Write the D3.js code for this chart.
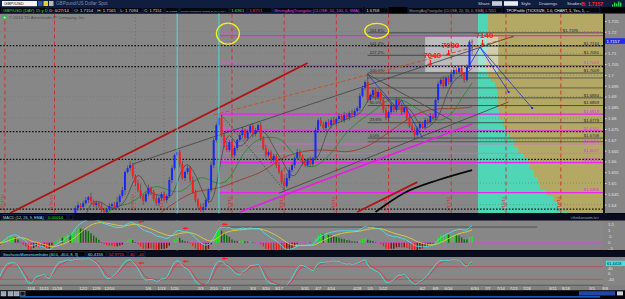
<!DOCTYPE html>
<html>
<head>
<meta charset="utf-8">
<script src="https://cdnjs.cloudflare.com/ajax/libs/d3/7.8.5/d3.min.js"></script>
<style>
  body { margin: 0; background: #000; overflow: hidden; }
  svg { display: block; font-family: "Liberation Sans", Arial, sans-serif; }
</style>
</head>
<body>
<svg id="chart" width="625" height="299"></svg>
<script>
// ---------------- data (GBP/USD daily) ----------------
var firstDay = "2013-09-23";
var firstOpen = 1.6040;
var closes = [
  1.6020,1.6000,1.6060,1.6030,1.6120,1.6190,1.6210,1.6200,1.6180,1.6120,
  1.6080,1.6110,1.5950,1.5960,1.5970,1.6010,1.5930,1.5980,1.6160,1.6170,
  1.6140,1.6230,1.6170,1.6190,1.6170,1.6110,1.6060,1.6050,1.6030,1.5930,
  1.5980,1.6080,1.6080,1.5990,1.6000,1.6010,1.5900,1.5960,1.6070,1.6120,
  1.6120,1.6140,1.6100,1.6180,1.6230,1.6190,1.6310,
  1.6384,1.6398,1.6389,1.6407,1.6421,1.6435,1.6416,1.6398,1.6407,1.6393,
  1.6375,1.6365,1.6379,1.6393,1.6402,1.6389,1.6412,1.6440,1.6467,1.6551,
  1.6569,1.6583,1.6532,1.6500,1.6467,1.6440,1.6416,1.6449,1.6477,1.6458,
  1.6426,1.6407,1.6430,1.6449,1.6421,1.6440,1.6514,1.6569,1.6629,1.6643,
  1.6588,1.6523,1.6551,1.6569,1.6514,1.6458,1.6421,1.6393,1.6375,1.6389,
  1.6421,1.6467,1.6583,1.6699,1.6768,1.6801,1.6722,1.6676,1.6653,1.6690,
  1.6629,1.6662,1.6699,1.6722,1.6745,1.6708,1.6736,1.6764,1.6727,1.6745,
  1.6768,1.6708,1.6662,1.6629,1.6643,1.6606,1.6625,1.6583,1.6551,1.6504,
  1.6486,1.6523,1.6560,1.6583,1.6615,1.6643,1.6625,1.6597,1.6583,1.6606,
  1.6588,1.6615,1.6745,1.6791,1.6773,1.6754,1.6782,1.6768,1.6791,1.6777,
  1.6796,1.6810,1.6791,1.6815,1.6805,1.6824,1.6815,1.6833,1.6847,1.6903,
  1.6940,1.6967,1.6884,1.6907,1.6930,1.6898,1.6921,1.6884,1.6838,1.6801,
  1.6828,1.6856,1.6838,1.6884,1.6856,1.6828,1.6847,1.6801,1.6764,1.6745,
  1.6722,1.6754,1.6773,1.6759,1.6791,1.6782,1.6810,1.6801,1.6884,1.6958,
  1.6977,1.6949,1.6986,1.6967,1.7004,1.7023,1.7014,1.7032,1.7000,1.6977,
  1.7037,1.7154,1.7151
];
// wicks in pips beyond the body
var upWick = [
  12,8,15,6,20,10,9,14,7,18,11,6,13,22,9,8,16,10,12,7,
  9,14,8,19,11,6,15,10,8,13,17,9,12,7,21,10,8,14,11,6,
  13,9,16,8,12,18,7,10,15,9,11,14,6,20,8,12,9,16,10,7,
  13,8,11,24,9,15,7,12,18,10,8,14,30,9,12,16,7,11,20,8,
  10,13,9,15,12,7,18,10,14,8,11,9,16,12,7,13,19,8,10,15,
  9,12,23,14,11,17,8,13,10,6,12,15,9,11,8,14,10,7,13,9,
  16,11,8,12,10,14,9,18,22,12,12,9,15,11,8,13,10,16,7,12,
  9,14,11,8,13,10,15,9,12,7,14,10,8,16,12,9,13,11,8,40,
  10,12,9,14,11,8,13,10,16,9,12,8,15,11,9,14,10,13,8,14,
  10,12,9,14,11,8,13,10,16,9,12,8,15,11,9,14,10,13,8,11
];
var dnWick = [
  10,14,7,12,9,16,8,11,13,6,15,9,12,8,18,10,7,14,11,9,
  12,7,15,10,8,13,20,9,11,14,8,12,10,16,7,13,9,11,15,8,
  14,10,7,12,18,9,13,8,11,16,10,7,14,12,9,15,8,13,10,11,
  9,16,12,8,14,10,22,7,13,11,15,9,12,17,8,10,14,9,12,13,
  11,8,15,10,13,9,12,16,8,14,10,13,7,11,15,9,12,8,14,10,
  13,11,16,9,12,8,10,14,11,13,9,15,10,12,8,17,11,9,13,10,
  12,8,14,10,13,9,11,15,8,12,10,14,9,12,16,8,11,13,10,9,
  14,11,8,13,10,15,9,12,11,8,13,10,16,9,12,11,14,8,10,13,
  11,9,14,12,8,13,10,15,9,11,12,10,13,8,14,9,11,18,10,12,
  9,11,13,10,12,8,14,9,11,10,12,9,13,10,8,11,12,9,10,57
];

var dateTicks = ["2013-11-04","2013-11-11","2013-11-18","2013-12-02","2013-12-09","2013-12-16",
  "2014-01-06","2014-01-13","2014-01-20","2014-02-03","2014-02-10","2014-02-17","2014-03-03",
  "2014-03-10","2014-03-17","2014-03-31","2014-04-07","2014-04-14","2014-04-28","2014-05-05",
  "2014-05-12","2014-06-02","2014-06-09","2014-06-16","2014-06-30","2014-07-07","2014-07-14",
  "2014-07-21","2014-07-28","2014-08-11","2014-08-18","2014-09-01","2014-09-08"];
var priceTicks = [1.64,1.645,1.65,1.655,1.66,1.665,1.67,1.675,1.68,1.685,1.69,1.695,1.70,1.705,1.71,1.715,1.72,1.725];
var macdTicks = [1.5, 1, 0.5, 0, -0.5];
var smiTicks = [40, 0, -40];

var redMarks = ["2013-10-21","2013-11-15","2014-02-19","2014-03-19","2014-04-16","2014-05-14","2014-06-17","2014-07-16","2014-08-14"];
var grayMarks = ["2013-12-30","2014-01-14"];
var cyanMarks = ["2014-01-21","2014-02-12"];
var arrowDates = ["2013-12-31","2014-01-23","2014-02-13"];

var fibAStart = "2014-02-12";
var fibAAnchors = [1.6456, 1.6819];
var fibARatios = [0, 0.382, 0.5, 0.618, 0.786, 1, 1.618, 2];
var fibBStart = "2014-05-02";
var fibBAnchors = [1.6708, 1.7009];
var fibBRatios = [0, 0.236, 0.5, 0.618, 1, 1.272, 1.414, 1.618];
var dottedLevels = [1.7136, 1.7039, 1.6738, 1.6609, 1.6379];
var grayLevels = [1.6986, 1.6940, 1.6691];

var redTrend = [["2013-10-23",1.6361],["2014-04-01",1.7055]];
var upperChannel = [["2013-12-27",1.6588],["2014-07-21",1.7180]];
var orangeTrend = [["2014-02-10",1.6815],["2014-07-21",1.7176]];
var magentaTrend = [["2014-02-24",1.6366],["2014-06-27",1.6773]];
var lowerChannel = [["2014-03-17",1.6453],["2014-07-17",1.6875]];
var fallingLine = [["2014-05-02",1.7003],["2014-06-17",1.6791]];
var dottedDrop = [["2014-02-13",1.6815],["2014-03-19",1.6467]];
var redSegment = [["2014-04-28",1.6366],["2014-05-29",1.6504]];
var blackCurve = [["2014-05-07",1.6366],["2014-05-22",1.6454],["2014-06-10",1.6514],["2014-06-27",1.6560]];
var blueSwing = [["2014-05-02",1.7003],["2014-05-19",1.6847],["2014-05-21",1.6884],["2014-06-02",1.6708]];
var blueProjA = [["2014-06-25",1.7023],["2014-07-02",1.7129],["2014-07-17",1.6921]];
var blueProjB = [["2014-07-02",1.7129],["2014-07-30",1.6847]];
var targetBox = [["2014-06-03",1.7176],["2014-07-11",1.7014]];
var targetTips = [["2014-06-05",1.7041],["2014-06-16",1.7088],["2014-07-03",1.7134]];
var targetLabels = ["7040","7080","7140"];
var macdGuide = [["2014-02-13",1.3],["2014-08-01",1.3]];

var tpoPrice = [1.7282,1.7254,1.7208,1.7162,1.7116,1.7055,1.7023,1.6990,1.6967,1.6944,1.6907,1.6870,1.6838,1.6791,
  1.6759,1.6731,1.6699,1.6666,1.6639,1.6615,1.6592,1.6560,1.6528,1.6500,1.6467,1.6440,1.6412,1.6389,1.6366];
var tpoCount = [10,10,10,9,8,7,10,13,17,19,20,20,21,25,28,31,36,40,46,50,52,56,60,62,68,75,80,84,89];

var lastBid = 1.7157;
var macdHeader = ["MACD (12, 26, 9, EMA)", "0.00014"];
var smiHeader = ["StochasticMomentumIndex (40.0, -40.0, 8, 3)", "60.4155", "52.9715", "40", "-40"];
var smiLast = "61.4418";

// ---------------- helpers ----------------
var parse = d3.timeParse("%Y-%m-%d");
var days = [];
var cur = parse(firstDay);
while (days.length < 262) {
  if (cur.getDay() !== 0 && cur.getDay() !== 6) days.push(cur);
  cur = d3.timeDay.offset(cur, 1);
}
function idx(s) { return d3.bisectLeft(days, parse(s)); }

function ema(arr, n) {
  var k = 2 / (n + 1), prev = null;
  return arr.map(function(v) {
    if (v == null) return null;
    prev = prev == null ? v : v * k + prev * (1 - k);
    return prev;
  });
}
function sma(arr, n) {
  return arr.map(function(v, i) {
    if (i < n - 1) return null;
    var s = arr.slice(i - n + 1, i + 1);
    if (s.some(function(e) { return e == null; })) return null;
    return d3.mean(s);
  });
}
function tma(arr, n) { return sma(sma(arr, Math.ceil(n / 2)), Math.floor(n / 2) + 1); }
// font size that lets a label fit its box
function fitSize(text, width, max) { return Math.min(max, width / (Math.max(1, text.length) * 0.5)); }

var candles = closes.map(function(c, i) {
  var o = i === 0 ? firstOpen : closes[i - 1];
  return { i: i, o: o, c: c, h: Math.max(o, c) + upWick[i] / 10000, l: Math.min(o, c) - dnWick[i] / 10000 };
});

// ---------------- layout ----------------
var svg = d3.select("#chart");
var plotR = 603;
var mainTop = 13.5, mainBot = 213;

var x = d3.scaleLinear().domain([idx("2013-11-04"), idx("2014-06-30")]).range([31, 474.7]);
var y = d3.scaleLinear().domain([1.6366, 1.7282]).range([212, 14]);
var ym = d3.scaleLinear().domain([-0.6, 1.8]).range([250, 221]);
var ys = d3.scaleLinear().domain([-100, 100]).range([288.8, 257.3]);

function px(p) { return [x(idx(p[0])), y(p[1])]; }

svg.append("rect").attr("width", 625).attr("height", 299).attr("fill", "#000");

// ---------------- header rows ----------------
svg.append("rect").attr("width", 625).attr("height", 7).attr("fill", "#0f1d3e");
svg.append("rect").attr("x", 2).attr("y", 1).attr("width", 35).attr("height", 5.2).attr("fill", "#f4f4f4");
svg.append("text").attr("x", 4).attr("y", 5.3).attr("font-size", 4.4).attr("fill", "#111").text("GBP/USD");
svg.append("rect").attr("x", 38).attr("y", 1).attr("width", 4.5).attr("height", 5).attr("fill", "#2a55b8");
svg.append("rect").attr("x", 43.5).attr("y", 1).attr("width", 4.5).attr("height", 5).attr("fill", "#e6d21e");
svg.append("rect").attr("x", 49).attr("y", 1).attr("width", 4.5).attr("height", 5).attr("fill", "#b8b8b8");
svg.append("text").attr("x", 56).attr("y", 5.3).attr("font-size", 4.6).attr("fill", "#7f8fb4").text("GBPound/US Dollar Spot");

var topButtons = [["Share", 478], ["Style", 521], ["Drawings", 539], ["Studies", 567]];
svg.selectAll("text.btn").data(topButtons).enter().append("text")
  .attr("x", function(d) { return d[1]; }).attr("y", 5.3)
  .attr("font-size", 4.4).attr("fill", "#d0d6e6").text(function(d) { return d[0]; });
svg.append("rect").attr("x", 492).attr("y", 1.2).attr("width", 10).attr("height", 4.6).attr("fill", "#c8ccd8");
svg.append("rect").attr("x", 504).attr("y", 1.2).attr("width", 14).attr("height", 4.6).attr("fill", "#e8ecf4");
svg.append("text").attr("x", 581).attr("y", 5.6).attr("font-size", 5).attr("font-weight", "bold")
  .attr("fill", "#ff2a2a").text("B: " + lastBid.toFixed(4));
[2, 4, 3, 5, 4].forEach(function(h, i) {
  svg.append("rect").attr("x", 612 + i * 2).attr("y", 6.5 - h).attr("width", 1.4).attr("height", h).attr("fill", "#22d84a");
});

var row2 = [["GBP/USD (DAY) 15 y D", "#3ee03e", 2, 45], ["D: 6/27/14", "#dcdcdc", 48, 24],
  ["O: 1.7154", "#dcdcdc", 73, 22], ["H: 1.7165", "#dcdcdc", 96, 22], ["L: 1.7094", "#dcdcdc", 119, 23],
  ["C: 1.7151", "#dcdcdc", 143, 21], ["R: 0.0071", "#dcdcdc", 165, 14],
  ["MovingAvgTriangular (CLOSE, 20, 50, 0, SMA)", "#3ee03e", 180, 49], ["1.6961", "#3ee03e", 230, 17],
  ["1.6751", "#ff3030", 248, 24], ["MovingAvgTriangular (CLOSE, 50, 100, 0, SMA)", "#e040e0", 273, 90],
  ["1.6768", "#dcdcdc", 365, 23], ["MovingAvgTriangular (CLOSE, 20, 30, 0, SMA)  1.7051", "#9a9a9a", 408, 94],
  ["TPOProfile (TICKSIZE, 1.0, CHART, 1, Yes, 1, ...", "#f0f0f0", 505, 95]];
var r2 = svg.selectAll("g.r2").data(row2).enter().append("g");
r2.append("rect").attr("x", function(d) { return d[2]; }).attr("y", 7.6)
  .attr("width", function(d) { return d[3]; }).attr("height", 5.4)
  .attr("fill", "#05070f").attr("stroke", "#1c2c6c").attr("stroke-width", 0.6);
r2.append("text").attr("x", function(d) { return d[2] + 1.2; }).attr("y", 11.9)
  .attr("font-size", function(d) { return fitSize(d[0], d[3] - 2.6, 4.3); }).attr("fill", function(d) { return d[1]; })
  .text(function(d) { return d[0]; });

// ---------------- main panel ----------------
svg.append("clipPath").attr("id", "clipMain").append("rect")
  .attr("x", 0).attr("y", mainTop).attr("width", plotR).attr("height", mainBot - mainTop);
var main = svg.append("g").attr("clip-path", "url(#clipMain)");
main.append("rect").attr("x", 0).attr("y", mainTop).attr("width", plotR).attr("height", mainBot - mainTop).attr("fill", "#878787");

// expansion area + TPO profile
var profileX0 = x(closes.length - 1) + 6;
var w = d3.scaleLinear().domain([0, 100]).range([0, 100]);
main.append("rect").attr("x", profileX0).attr("y", mainTop).attr("width", plotR - profileX0)
  .attr("height", mainBot - mainTop).attr("fill", "#b3a964");
main.selectAll("rect.tpo").data(tpoPrice).enter().append("rect")
  .attr("shape-rendering", "crispEdges")
  .attr("x", profileX0)
  .attr("y", function(p, j) { return j === 0 ? mainTop : y(p); })
  .attr("width", function(p, j) { return w(tpoCount[j]); })
  .attr("height", function(p, j) { return (j + 1 < tpoPrice.length ? y(tpoPrice[j + 1]) : mainBot) - (j === 0 ? mainTop : y(p)) + 0.5; })
  .attr("fill", "#4fd6b6");

// grid
main.selectAll("line.hg").data(d3.range(1.64, 1.7251, 0.01)).enter().append("line")
  .attr("x1", 0).attr("x2", plotR).attr("y1", function(d) { return y(d); }).attr("y2", function(d) { return y(d); })
  .attr("stroke", "#767676").attr("stroke-width", 0.6).attr("stroke-dasharray", "1,2");

// target box
var tb0 = px(targetBox[0]), tb1 = px(targetBox[1]);
main.append("rect").attr("x", tb0[0]).attr("y", tb0[1]).attr("width", tb1[0] - tb0[0]).attr("height", tb1[1] - tb0[1])
  .attr("fill", "#f2f2f2").attr("opacity", 0.5);

// vertical markers
main.selectAll("line.red").data(redMarks).enter().append("line")
  .attr("x1", function(d) { return x(idx(d)); }).attr("x2", function(d) { return x(idx(d)); })
  .attr("y1", mainTop).attr("y2", mainBot)
  .attr("stroke", "#d42a2a").attr("stroke-width", 0.9).attr("stroke-dasharray", "4,3");
main.selectAll("line.gm").data(grayMarks).enter().append("line")
  .attr("x1", function(d) { return x(idx(d)); }).attr("x2", function(d) { return x(idx(d)); })
  .attr("y1", mainTop).attr("y2", mainBot)
  .attr("stroke", "#8c6a5c").attr("stroke-width", 0.9).attr("stroke-dasharray", "1.5,2");
var fmtMark = d3.timeFormat("%-m/%-d/%y");
main.selectAll("text.vm").data(redMarks.concat(grayMarks)).enter().append("text")
  .attr("transform", function(d) { return "translate(" + (x(idx(d)) - 1.2) + ",211) rotate(-90)"; })
  .attr("font-size", 4.3).attr("fill", "#d63030").text(function(d) { return fmtMark(parse(d)); });

// horizontal levels
function hline(g, p, x0, color, width, dash) {
  g.append("line").attr("x1", x0).attr("x2", plotR).attr("y1", y(p)).attr("y2", y(p))
    .attr("stroke", color).attr("stroke-width", width).attr("stroke-dasharray", dash || null);
}
grayLevels.forEach(function(p) { hline(main, p, x(idx(fibBStart)), "#4a4a4a", 0.8); });
var fibB = fibBRatios.map(function(r) { return { r: r, p: fibBAnchors[0] + r * (fibBAnchors[1] - fibBAnchors[0]) }; });
fibB.forEach(function(f) { hline(main, f.p, x(idx(fibBStart)), "#3a3a3a", 0.8); });
var fibA = fibARatios.map(function(r) { return { r: r, p: fibAAnchors[0] + r * (fibAAnchors[1] - fibAAnchors[0]) }; });
fibA.forEach(function(f) {
  var thin = f.r === 0.5 || f.r === 0.618;
  hline(main, f.p, x(idx(fibAStart)), thin ? "#d070d0" : "#ee22ee", thin ? 0.7 : 1.3);
});
dottedLevels.forEach(function(p) { hline(main, p, 0, "#111", 1.3, "1.6,1.6"); });

// fib labels
var pct = function(r) { return (r * 100).toFixed(1) + "%"; };
main.selectAll("text.fa").data(fibA).enter().append("text")
  .attr("x", x(idx(fibAStart)) + 2).attr("y", function(d) { return y(d.p) - 1.3; })
  .attr("font-size", 4.2).attr("fill", "#f040f0").text(function(d) { return pct(d.r); });
main.selectAll("text.fb").data(fibB).enter().append("text")
  .attr("x", x(idx(fibBStart)) + 2).attr("y", function(d) { return y(d.p) - 1.3; })
  .attr("font-size", 4.2).attr("fill", "#2a2a2a").text(function(d) { return pct(d.r); });
main.selectAll("text.pa").data(fibA).enter().append("text")
  .attr("x", 599).attr("y", function(d) { return y(d.p) - 1.2; }).attr("text-anchor", "end")
  .attr("font-size", 4.2).attr("fill", "#e030e0").text(function(d) { return "$" + d.p.toFixed(4); });
// fib B price tags step left when a fib A tag sits on the same row
main.selectAll("text.pb").data(fibB).enter().append("text")
  .attr("x", function(d) {
    var clash = fibA.some(function(a) { return Math.abs(y(a.p) - y(d.p)) < 5; });
    return clash ? 578 : 599;
  })
  .attr("y", function(d) { return y(d.p) - 1.2; }).attr("text-anchor", "end")
  .attr("font-size", 4.2).attr("fill", "#262626").text(function(d) { return "$" + d.p.toFixed(4); });

// trendlines
var line = d3.line().x(function(d) { return px(d)[0]; }).y(function(d) { return px(d)[1]; });
function trend(pts, color, width, dash) {
  main.append("path").attr("d", line(pts)).attr("fill", "none").attr("stroke", color)
    .attr("stroke-width", width).attr("stroke-dasharray", dash || null);
}
trend(redTrend, "#b01414", 1.8);
trend(upperChannel, "#4a4a4a", 0.9);
trend(orangeTrend, "#c0561e", 1, "4,2");
trend(magentaTrend, "#e41ee4", 1.5);
trend(lowerChannel, "#4a4a4a", 0.9);
trend(fallingLine, "#4a4a4a", 0.9);
trend(dottedDrop, "#4a4a4a", 0.9, "1.5,1.5");
trend(redSegment, "#b01414", 1.8);
main.append("path").attr("d", line.curve(d3.curveMonotoneX)(blackCurve)).attr("fill", "none")
  .attr("stroke", "#0a0a0a").attr("stroke-width", 1.8);
line.curve(d3.curveLinear);

// moving averages
var maLine = d3.line().defined(function(d) { return d != null; })
  .x(function(d, i) { return x(i); }).y(function(d) { return y(d); });
[[tma(closes, 50), "#a3301a"], [tma(closes, 20), "#1d8a22"], [tma(closes, 8), "#4a4a4a"]].forEach(function(m) {
  main.append("path").attr("d", maLine(m[0])).attr("fill", "none").attr("stroke", m[1]).attr("stroke-width", 0.8);
});

// candles
var cg = main.append("g");
cg.selectAll("line").data(candles).enter().append("line")
  .attr("x1", function(d) { return x(d.i); }).attr("x2", function(d) { return x(d.i); })
  .attr("y1", function(d) { return y(d.h); }).attr("y2", function(d) { return y(d.l); })
  .attr("stroke", "#3c3c3c").attr("stroke-width", 0.6);
cg.selectAll("rect").data(candles).enter().append("rect")
  .attr("x", function(d) { return x(d.i) - 1; }).attr("width", 2)
  .attr("y", function(d) { return y(Math.max(d.o, d.c)); })
  .attr("height", function(d) { return Math.max(0.7, Math.abs(y(d.o) - y(d.c))); })
  .attr("fill", function(d) { return d.c >= d.o ? "#1628ff" : "#ff1c1c"; });

// blue swing / projection lines
[blueSwing, blueProjA, blueProjB].forEach(function(pts) { trend(pts, "#1f34d8", 0.8); });
main.selectAll("rect.pd").data([blueProjA[2], blueProjB[1]]).enter().append("rect")
  .attr("x", function(d) { return px(d)[0] - 1; }).attr("y", function(d) { return px(d)[1] - 1; })
  .attr("width", 2).attr("height", 2).attr("fill", "#1f34d8");

// targets
targetTips.forEach(function(t, i) {
  var p = px(t);
  main.append("line").attr("x1", p[0]).attr("x2", p[0]).attr("y1", p[1] - 6).attr("y2", p[1] - 2)
    .attr("stroke", "#ff1a1a").attr("stroke-width", 1.2);
  main.append("path").attr("d", "M" + (p[0] - 2) + "," + (p[1] - 2.5) + "L" + (p[0] + 2) + "," + (p[1] - 2.5) + "L" + p[0] + "," + p[1] + "Z")
    .attr("fill", "#ff1a1a");
  main.append("text").attr("x", p[0] + 2).attr("y", p[1] - 8).attr("text-anchor", "middle")
    .attr("font-size", 8).attr("font-weight", "bold").attr("fill", "#ff2020").text(targetLabels[i]);
});

// cyan markers (through all panels)
svg.selectAll("line.cy").data(cyanMarks).enter().append("line")
  .attr("x1", function(d) { return x(idx(d)); }).attr("x2", function(d) { return x(idx(d)); })
  .attr("y1", mainTop).attr("y2", 285)
  .attr("stroke", "#3ee6e6").attr("stroke-width", 0.9);

// annotation circles round the extension labels
var fa2 = fibA[fibA.length - 1], fb2 = fibB[fibB.length - 1];
svg.append("ellipse").attr("cx", x(idx(fibAStart)) + 9).attr("cy", y(fa2.p) - 2).attr("rx", 11.5).attr("ry", 10.5)
  .attr("fill", "none").attr("stroke", "#f4f020").attr("stroke-width", 1.3);
svg.append("ellipse").attr("cx", x(idx(fibBStart)) + 9).attr("cy", y(fb2.p) - 2).attr("rx", 12).attr("ry", 7.5)
  .attr("fill", "none").attr("stroke", "#f4f020").attr("stroke-width", 1.3);

// copyright
svg.append("circle").attr("cx", 4.5).attr("cy", 17).attr("r", 2.4).attr("fill", "#2fb84a");
svg.append("text").attr("x", 3.2).attr("y", 18.6).attr("font-size", 4.5).attr("fill", "#fff").text("+");
svg.append("text").attr("x", 9).attr("y", 18.8).attr("font-size", 4.3).attr("fill", "#4c4c4c")
  .text("\u00a9 2014 TD Ameritrade IP Company, Inc.");

// right price axis (the bid tag covers the tick it sits on)
svg.append("rect").attr("x", plotR).attr("y", mainTop).attr("width", 625 - plotR).attr("height", mainBot - mainTop).attr("fill", "#858585");
svg.append("line").attr("x1", plotR + 1).attr("x2", plotR + 1).attr("y1", mainTop).attr("y2", 291)
  .attr("stroke", "#101010").attr("stroke-width", 2);
var shownTicks = priceTicks.filter(function(t) { return Math.abs(y(t) - y(lastBid)) > 4.5; });
var ax = svg.append("g").attr("transform", "translate(" + (plotR + 2) + ",0)")
  .call(d3.axisRight(y).tickValues(shownTicks).tickSize(1.5).tickFormat(function(d) { return String(+d.toFixed(3)); }));
ax.select(".domain").remove();
ax.selectAll("text").attr("font-size", 4.3).attr("fill", "#e2e2e2").attr("x", 3);
ax.selectAll("line").attr("stroke", "#ddd");
svg.append("rect").attr("x", plotR + 2).attr("y", y(lastBid) - 2.8).attr("width", 20).attr("height", 5.6).attr("fill", "#1d2ef0");
svg.append("text").attr("x", plotR + 3.5).attr("y", y(lastBid) + 1.6).attr("font-size", 4.3).attr("fill", "#fff").text(lastBid.toFixed(4));

// ---------------- indicators ----------------
var e12 = ema(closes, 12), e26 = ema(closes, 26);
var macd = closes.map(function(c, i) { return (e12[i] - e26[i]) * 200; });
var sig = ema(macd, 9);
var hist = macd.map(function(v, i) { return (v - sig[i]) * 1.6; });

var K = 8, D = 3;
var hh = candles.map(function(d, i) { return d3.max(candles.slice(Math.max(0, i - K + 1), i + 1), function(e) { return e.h; }); });
var ll = candles.map(function(d, i) { return d3.min(candles.slice(Math.max(0, i - K + 1), i + 1), function(e) { return e.l; }); });
var rel = closes.map(function(c, i) { return c - (hh[i] + ll[i]) / 2; });
var rng = hh.map(function(h, i) { return h - ll[i]; });
var avgRel = ema(ema(rel, D), D), avgRng = ema(ema(rng, D), D);
var smi = avgRel.map(function(v, i) { return v / (avgRng[i] / 2) * 100; });
var smiAvg = ema(smi, D);

function panelFrame(top, bot, headerY, items) {
  svg.append("rect").attr("x", 0).attr("y", headerY - 1).attr("width", 625).attr("height", top - headerY + 1).attr("fill", "#080b1c");
  var g = svg.selectAll(null).data(items).enter().append("g");
  g.append("rect").attr("x", function(d) { return d[2]; }).attr("y", headerY)
    .attr("width", function(d) { return d[3]; }).attr("height", 5.2)
    .attr("fill", "#03050c").attr("stroke", "#1c2c6c").attr("stroke-width", 0.6);
  g.append("text").attr("x", function(d) { return d[2] + 1; }).attr("y", headerY + 4.2)
    .attr("font-size", function(d) { return fitSize(d[0], d[3] - 2.2, 4.2); }).attr("fill", function(d) { return d[1]; })
    .text(function(d) { return d[0]; });
  svg.append("rect").attr("x", 0).attr("y", top).attr("width", plotR).attr("height", bot - top).attr("fill", "#878787");
  svg.append("rect").attr("x", plotR).attr("y", top).attr("width", 625 - plotR).attr("height", bot - top).attr("fill", "#858585");
}

// MACD panel
panelFrame(220.5, 250, 214.5, [[macdHeader[0], "#86e4f2", 2, 43], [macdHeader[1], "#30e030", 47, 20], ["", "#e040e0", 69, 4]]);
svg.append("text").attr("x", 599).attr("y", 218.6).attr("text-anchor", "end").attr("font-size", 3.8).attr("fill", "#9aa4c0").text("<thinkorswim.tv>");
svg.append("clipPath").attr("id", "clipMacd").append("rect").attr("x", 0).attr("y", 220.5).attr("width", plotR).attr("height", 29.5);
var mg = svg.append("g").attr("clip-path", "url(#clipMacd)");
mg.append("line").attr("x1", 0).attr("x2", plotR).attr("y1", ym(0)).attr("y2", ym(0)).attr("stroke", "#d84ad8").attr("stroke-width", 0.8);
mg.append("line").attr("x1", x(idx(macdGuide[0][0]))).attr("x2", x(idx(macdGuide[1][0])))
  .attr("y1", ym(macdGuide[0][1])).attr("y2", ym(macdGuide[1][1])).attr("stroke", "#444").attr("stroke-width", 0.8);
mg.selectAll("rect").data(hist).enter().append("rect")
  .attr("x", function(d, i) { return x(i) - 0.7; }).attr("width", 1.4)
  .attr("y", function(d) { return d >= 0 ? ym(d) : ym(0); })
  .attr("height", function(d) { return Math.abs(ym(d) - ym(0)); })
  .attr("fill", function(d, i) {
    var up = i > 0 && d > hist[i - 1];
    if (d >= 0) return up ? "#16f016" : "#0a6a0a";
    return up ? "#8a0c0c" : "#ff1a1a";
  });
var ml = d3.line().x(function(d, i) { return x(i); }).y(function(d) { return ym(d); }).curve(d3.curveMonotoneX);
mg.append("path").attr("d", ml(sig)).attr("fill", "none").attr("stroke", "#e0d034").attr("stroke-width", 0.9);
mg.append("path").attr("d", ml(macd)).attr("fill", "none").attr("stroke", "#46e4ee").attr("stroke-width", 0.9);
arrowDates.forEach(function(d) {
  var i = idx(d), xx = x(i), yy = ym(Math.max(macd[i], sig[i])) - 3;
  mg.append("path").attr("d", "M" + xx + "," + yy + "l3,-1.6v1h3v1.2h-3v1z").attr("fill", "#ff2020");
});
svg.selectAll("text.mt").data(macdTicks).enter().append("text")
  .attr("x", plotR + 5).attr("y", function(d) { return ym(d) + 1.5; })
  .attr("font-size", 4.3).attr("fill", "#e2e2e2").text(function(d) { return d === 0.5 ? ".5" : d === -0.5 ? "-.5" : d; });

// Stochastic momentum panel
panelFrame(257, 285, 251.5, [[smiHeader[0], "#86e4f2", 2, 83], [smiHeader[1], "#86e4f2", 87, 19],
  [smiHeader[2], "#ff3a3a", 108, 19], [smiHeader[3], "#ff3a3a", 129, 6], [smiHeader[4], "#ff3a3a", 137, 8]]);
svg.append("clipPath").attr("id", "clipSmi").append("rect").attr("x", 0).attr("y", 257).attr("width", plotR).attr("height", 28);
var sg = svg.append("g").attr("clip-path", "url(#clipSmi)");
[40, -40].forEach(function(v) {
  sg.append("line").attr("x1", 0).attr("x2", plotR).attr("y1", ys(v)).attr("y2", ys(v)).attr("stroke", "#c24848").attr("stroke-width", 0.8);
});
var sl = d3.line().x(function(d, i) { return x(i); }).y(function(d) { return ys(d); }).curve(d3.curveMonotoneX);
sg.append("path").attr("d", sl(smiAvg)).attr("fill", "none").attr("stroke", "#e03838").attr("stroke-width", 0.9);
sg.append("path").attr("d", sl(smi)).attr("fill", "none").attr("stroke", "#3ee2ea").attr("stroke-width", 0.9);
arrowDates.forEach(function(d) {
  var i = idx(d), xx = x(i), yy = ys(Math.max(smi[i], smiAvg[i])) - 3;
  sg.append("path").attr("d", "M" + xx + "," + yy + "l3,-1.6v1h3v1.2h-3v1z").attr("fill", "#ff2020");
});
var smiBoxY = ys(+smiLast) - 2.6;
svg.append("rect").attr("x", plotR + 3).attr("y", smiBoxY).attr("width", 19).attr("height", 5.2).attr("fill", "#3ee2ea");
svg.append("text").attr("x", plotR + 4).attr("y", smiBoxY + 4.1).attr("font-size", 4).attr("fill", "#05202a").text(smiLast);
svg.selectAll("text.st").data(smiTicks).enter().append("text")
  .attr("x", plotR + 5).attr("y", function(d) { return ys(d) + (d === 40 ? 3.2 : 1.5); })
  .attr("font-size", 4.1).attr("fill", "#e2e2e2").text(function(d) { return d; });

// ---------------- date axis + bottom bar ----------------
svg.append("rect").attr("x", 0).attr("y", 285).attr("width", 625).attr("height", 5.5).attr("fill", "#808080");
svg.append("line").attr("x1", 0).attr("x2", plotR).attr("y1", 285.2).attr("y2", 285.2).attr("stroke", "#3a3a3a").attr("stroke-width", 0.6);
var fmtTick = d3.timeFormat("%-m/%-d");
svg.selectAll("text.dt").data(dateTicks).enter().append("text")
  .attr("x", function(d) { return x(idx(d)); }).attr("y", 289.6).attr("text-anchor", "middle")
  .attr("font-size", 4.1).attr("fill", "#ececd8").text(function(d) { return fmtTick(parse(d)); });
svg.append("rect").attr("x", 0).attr("y", 290.5).attr("width", 625).attr("height", 8.5).attr("fill", "#03040a");
[1, 8, 14, 20].forEach(function(xx, i) {
  svg.append("rect").attr("x", xx).attr("y", 291.5).attr("width", 5).attr("height", 4.5)
    .attr("fill", i === 3 ? "#1a1a1a" : "#9aa6b8").attr("stroke", "#d0d6e0").attr("stroke-width", 0.4);
});
svg.append("rect").attr("x", 20).attr("y", 296.2).attr("width", 580).attr("height", 1.3).attr("fill", "#1f6fd8");
svg.append("rect").attr("x", 579).attr("y", 291.2).attr("width", 36).attr("height", 4.3).attr("fill", "#2446a8");
svg.append("rect").attr("x", 617).attr("y", 291.4).attr("width", 6).attr("height", 4).attr("fill", "#c8d0dc");
</script>
</body>
</html>
